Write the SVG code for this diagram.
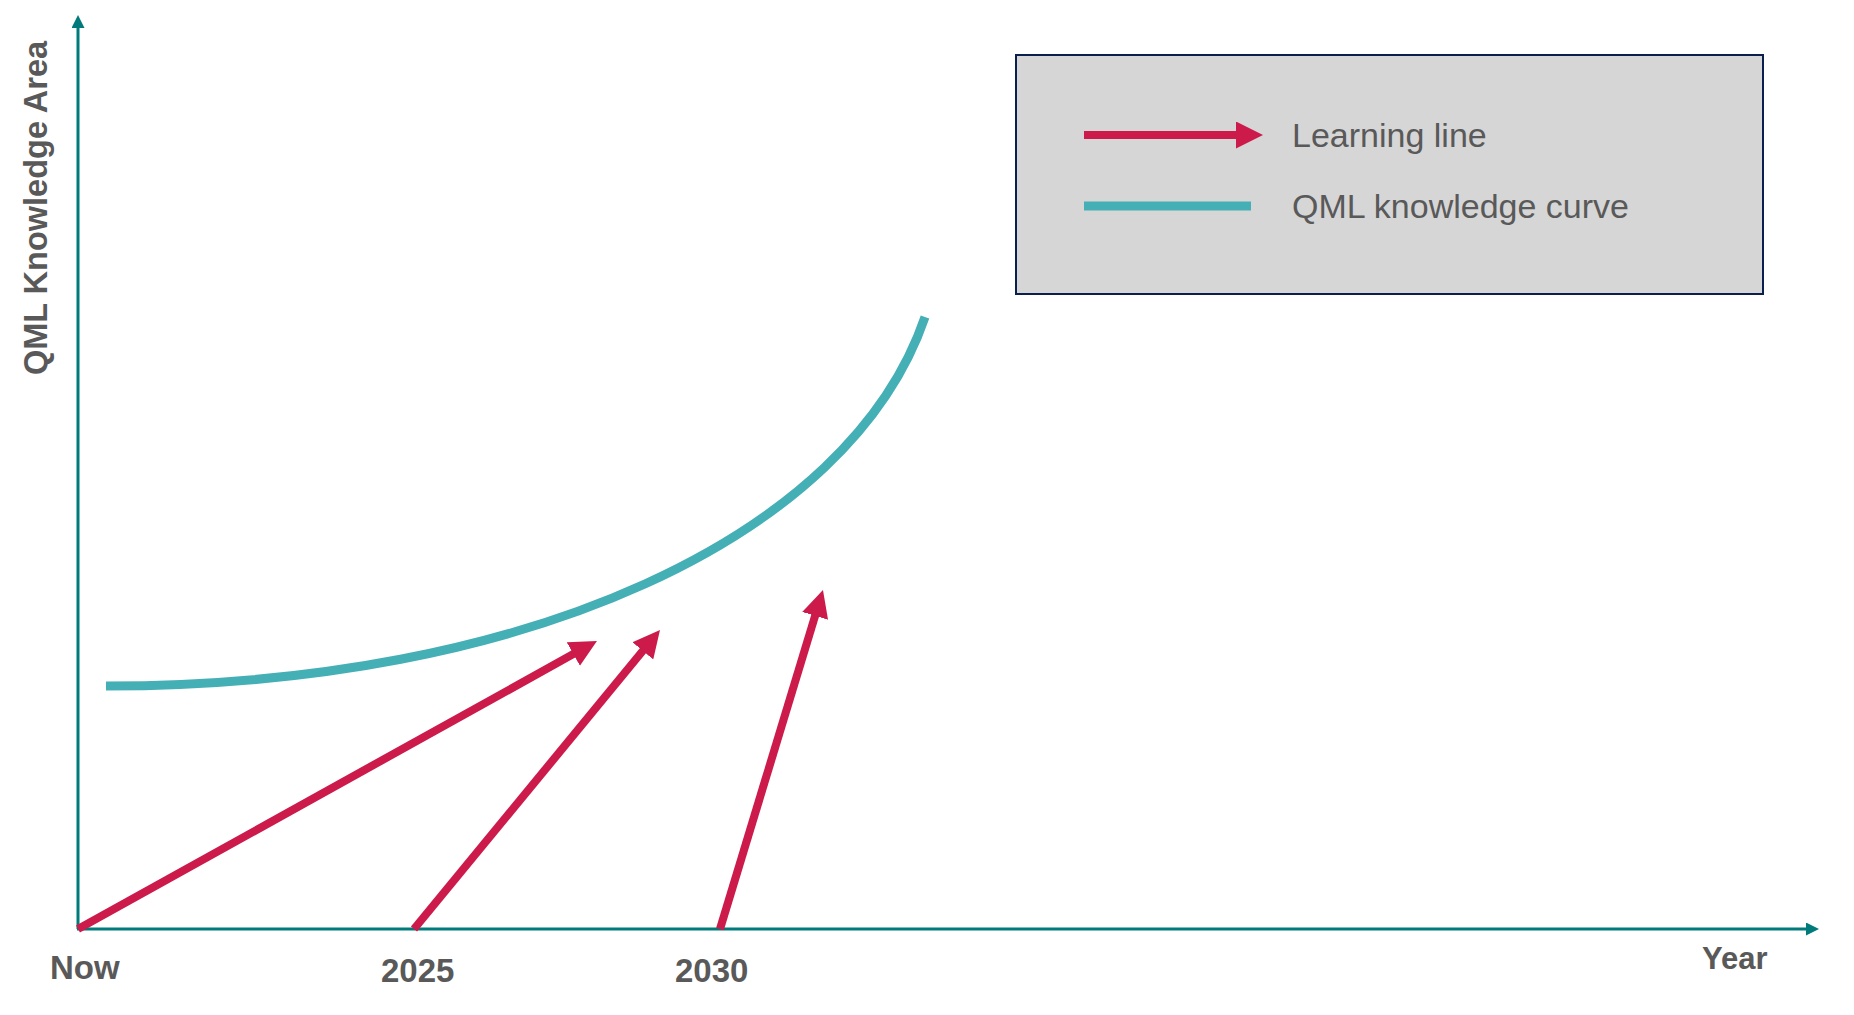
<svg xmlns="http://www.w3.org/2000/svg" width="1854" height="1015" viewBox="0 0 1854 1015">
  <style>
    .axis { stroke: #007A7A; stroke-width: 3; fill: none; }
    .learn { stroke: #CC1A4A; stroke-width: 8; fill: none; }
    .curve { stroke: #45AFB6; stroke-width: 9; fill: none; }
    .lbl { font-family: "Liberation Sans", Arial, sans-serif; font-weight: bold; fill: #595959; }
    .leg { font-family: "Liberation Sans", Arial, sans-serif; font-size: 34px; fill: #595959; }
  </style>
  <defs>
    <marker id="redHead" markerUnits="userSpaceOnUse" viewBox="0 0 27 27" markerWidth="27" markerHeight="27" refX="2" refY="13.5" orient="auto">
      <path d="M0,0 L27,13.5 L0,27 Z" fill="#CC1A4A"/>
    </marker>
    <marker id="axisHead" markerUnits="userSpaceOnUse" viewBox="0 0 13 13" markerWidth="13" markerHeight="13" refX="1" refY="6.5" orient="auto">
      <path d="M0,0 L13,6.5 L0,13 Z" fill="#007A7A"/>
    </marker>
  </defs>
  <rect width="1854" height="1015" fill="#FFFFFF"/>

  <g id="axes">
    <line class="axis" x1="78" y1="929" x2="78" y2="27" marker-end="url(#axisHead)"/>
    <line class="axis" x1="77" y1="929" x2="1807" y2="929" marker-end="url(#axisHead)"/>
  </g>

  <g id="axis-labels">
    <text class="lbl" font-size="32.5" transform="translate(47,208) rotate(-90)" text-anchor="middle">QML Knowledge Area</text>
    <text class="lbl" font-size="33" x="50" y="979">Now</text>
    <text class="lbl" font-size="33" x="381" y="982">2025</text>
    <text class="lbl" font-size="33" x="675" y="982">2030</text>
    <text class="lbl" font-size="31" x="1702" y="969">Year</text>
  </g>

  <g id="knowledge-curve">
    <path class="curve" d="M106,686 C526,686 850,537 925,317"/>
  </g>

  <g id="connectors">
    <line class="learn" x1="78" y1="929" x2="575.1" y2="653.1" marker-end="url(#redHead)"/>
    <line class="learn" x1="414" y1="929" x2="644.1" y2="649.3" marker-end="url(#redHead)"/>
    <line class="learn" x1="720" y1="929" x2="815.7" y2="613.9" marker-end="url(#redHead)"/>
  </g>

  <g id="legend">
    <rect x="1016" y="55" width="747" height="239" fill="#D6D6D6" stroke="#0B1F4F" stroke-width="2"/>
    <line class="learn" x1="1084" y1="135" x2="1238" y2="135" marker-end="url(#redHead)"/>
    <text class="leg" x="1292" y="147">Learning line</text>
    <line class="curve" x1="1084" y1="206" x2="1251" y2="206"/>
    <text class="leg" x="1292" y="218">QML knowledge curve</text>
  </g>
</svg>
